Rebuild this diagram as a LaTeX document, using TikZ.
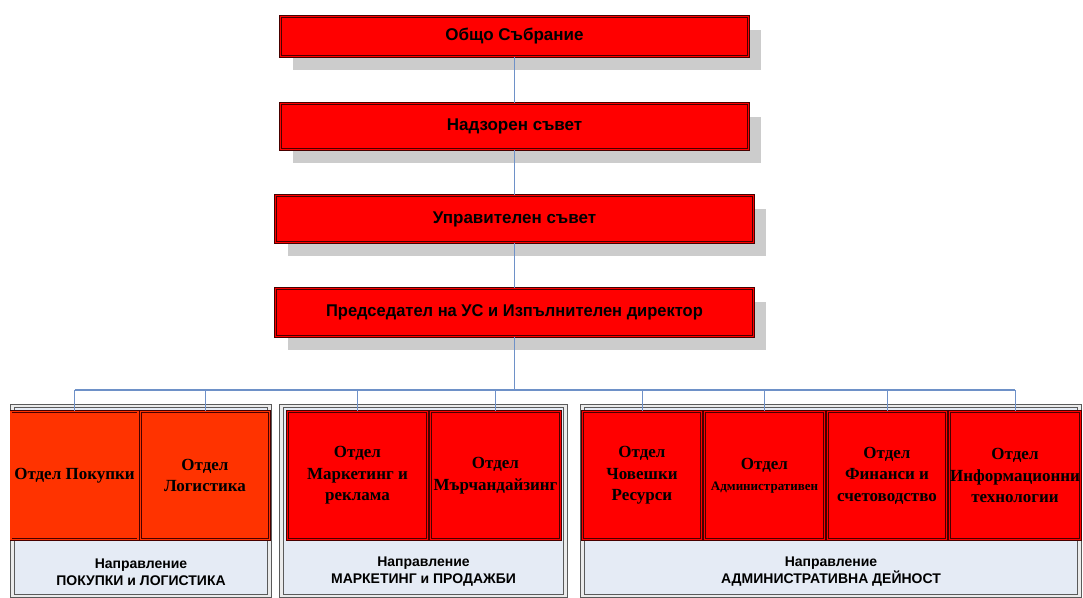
\documentclass[tikz,border=0pt]{standalone}
\usepackage{fontspec}
\setmainfont{Liberation Serif}
\setsansfont{Liberation Sans}
\usetikzlibrary{shadows}
\definecolor{boxred}{RGB}{255,0,0}
\definecolor{boxorange}{RGB}{255,51,0}
\definecolor{edgedark}{RGB}{70,0,0}
\definecolor{connblue}{RGB}{110,145,200}
\definecolor{grpfill}{RGB}{229,235,245}
\definecolor{grpedge}{RGB}{90,90,90}
\begin{document}
\begin{tikzpicture}[x=1pt,y=-1pt,
  dbl/.style={draw=edgedark, line width=0.7pt, double=#1, double distance=1.3pt},
  topbox/.style={rectangle, fill=boxred, dbl=boxred, inner sep=0pt,
    drop shadow={shadow xshift=12pt, shadow yshift=-13pt, fill=black!20, opacity=1},
    font=\sffamily\bfseries\fontsize{17}{20}\selectfont},
  dept/.style={rectangle, fill=#1, dbl=#1, inner sep=0pt, align=center,
    minimum height=128, font=\rmfamily\bfseries\fontsize{17}{21.5}\selectfont},
  grp/.style={rectangle, fill=grpfill, draw=grpedge, line width=0.9pt,
    double=white!92!black, double distance=2.4pt, inner sep=0pt, minimum height=190},
  lbl/.style={align=center, inner sep=0pt, font=\sffamily\bfseries\fontsize{14}{17}\selectfont},
  connthin/.style={draw=connblue, line width=0.8pt},
  connbus/.style={draw=connblue, line width=1.5pt}]
\useasboundingbox (0,0) rectangle (1083,597);

% top hierarchy
\node[topbox, minimum width=468, minimum height=40] (b1) at (514.5,36.5) {Общо Събрание};
\node[topbox, minimum width=468, minimum height=46] (b2) at (514.5,126.5) {Надзорен съвет};
\node[topbox, minimum width=478, minimum height=47] (b3) at (514.5,219) {Управителен съвет};
\node[topbox, minimum width=478, minimum height=48] (b4) at (514.5,312.5) {\scalebox{0.97}[1]{Председател на УС и Изпълнителен директор}};

% groups
\node[grp, minimum width=257] (g1) at (141,501) {};
\node[grp, minimum width=284] (g2) at (423.5,501) {};
\node[grp, minimum width=497] (g3) at (831,501) {};

% departments
\node[dept=boxorange, minimum width=127] (d1) at (74.5,475.5) {Отдел Покупки};
\node[dept=boxorange, minimum width=129] (d2) at (205,475.5) {Отдел\\Логистика};
\node[dept=boxred, minimum width=140] (d3) at (357.5,475.5) {Отдел\\Маркетинг и\\реклама};
\node[dept=boxred, minimum width=130] (d4) at (495.5,475.5) {Отдел\\Мърчандайзинг};
\node[dept=boxred, minimum width=119] (d5) at (642,475.5) {Отдел\\Човешки\\Ресурси};
\node[dept=boxred, minimum width=120] (d6) at (764.5,475.5) {Отдел\\{\fontsize{13}{16}\selectfont Административен}};
\node[dept=boxred, minimum width=119] (d7) at (887,475.5) {Отдел\\Финанси и\\счетоводство};
\node[dept=boxred, minimum width=131] (d8) at (1015,475.5) {Отдел\\Информационни\\технологии};

% group labels
\node[lbl] (l1) at (141,572) {Направление\\ПОКУПКИ и ЛОГИСТИКА};
\node[lbl] (l2) at (423.5,572) {Направление\\МАРКЕТИНГ и ПРОДАЖБИ};
\node[lbl] (l3) at (831,572) {Направление\\АДМИНИСТРАТИВНА ДЕЙНОСТ};

% connectors
\coordinate (bus) at (514.5,390);
\draw[connthin] (b1.south) -- (b2.north);
\draw[connthin] (b2.south) -- (b3.north);
\draw[connthin] (b3.south) -- (b4.north);
\draw[connbus] (b4.south) -- (bus);
\draw[connbus] (d1.north |- bus) -- (d8.north |- bus);
\foreach \d in {d1,d2,d3,d4,d5,d6,d7,d8}
  \draw[connthin] (\d.north) -- (\d.north |- bus);
\end{tikzpicture}
\end{document}
